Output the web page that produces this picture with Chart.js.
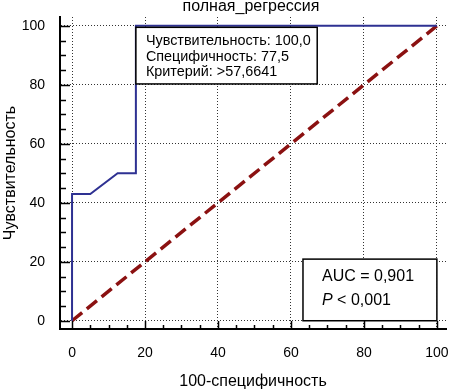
<!DOCTYPE html>
<html>
<head>
<meta charset="utf-8">
<script src="https://cdn.jsdelivr.net/npm/chart.js@4"></script>
<style>
  html, body { margin: 0; padding: 0; background: #fff; }
  #wrap { width: 449px; height: 392px; }
</style>
</head>
<body>
<div id="wrap"><canvas id="roc" width="449" height="392"></canvas></div>
<script>
const chartTitle = 'полная_регрессия';
const xAxisLabel = '100-специфичность';
const yAxisLabel = 'Чувствительность';

// ROC curve points (100-specificity, sensitivity)
const rocX = [0, 0, 5, 12.5, 17.5, 17.5, 100];
const rocY = [0, 43, 43, 50, 50, 100, 100];
// reference diagonal
const refX = [0, 100];
const refY = [0, 100];

const majorTicks = [0, 20, 40, 60, 80, 100];
const minorTicks = [5, 10, 15, 25, 30, 35, 45, 50, 55, 65, 70, 75, 85, 90, 95];

const cutoffLines = ['Чувствительность: 100,0', 'Специфичность: 77,5', 'Критерий: >57,6641'];
const aucText = 'AUC = 0,901';
const pLetter = 'P';
const pRest = ' < 0,001';

const FONT = 'Arial, "Liberation Sans", sans-serif';

function toPoints(xs, ys) {
    return xs.map((v, i) => ({ x: v, y: ys[i] }));
}

// title, inner tick marks and the two text boxes
const decorations = {
    id: 'decorations',
    afterDatasetsDraw(chart) {
        const { ctx, chartArea } = chart;
        const x = chart.scales.x;
        const y = chart.scales.y;
        ctx.save();

        // tick marks point inward
        ctx.strokeStyle = '#000';
        ctx.lineWidth = 1.5;
        const allTicks = majorTicks.concat(minorTicks);
        allTicks.forEach((v) => {
            const major = majorTicks.includes(v);
            const px = Math.round(x.getPixelForValue(v)) + 0.5;
            ctx.beginPath();
            ctx.moveTo(px, chartArea.bottom);
            ctx.lineTo(px, chartArea.bottom - (major ? 8 : 4));
            ctx.stroke();
            const py = Math.round(y.getPixelForValue(v)) + 0.5;
            ctx.beginPath();
            ctx.moveTo(chartArea.left, py);
            ctx.lineTo(chartArea.left + (major ? 10 : 6), py);
            ctx.stroke();
        });

        // cutoff box
        const b1l = x.getPixelForValue(17.5), b1r = x.getPixelForValue(67.2);
        const b1t = y.getPixelForValue(99.5), b1b = y.getPixelForValue(80.3);
        ctx.fillStyle = '#fff';
        ctx.fillRect(b1l, b1t, b1r - b1l, b1b - b1t);
        ctx.strokeStyle = '#000';
        ctx.lineWidth = 1.5;
        ctx.strokeRect(b1l, b1t, b1r - b1l, b1b - b1t);
        ctx.fillStyle = '#000';
        ctx.font = '14.4px ' + FONT;
        ctx.textBaseline = 'middle';
        ctx.textAlign = 'left';
        cutoffLines.forEach((t, i) => {
            ctx.fillText(t, b1l + 10, b1t + 14 + i * 15.6);
        });

        // AUC box
        const b2l = x.getPixelForValue(63.3), b2r = x.getPixelForValue(100);
        const b2t = y.getPixelForValue(20.9), b2b = y.getPixelForValue(0);
        ctx.fillStyle = '#fff';
        ctx.fillRect(b2l, b2t, b2r - b2l, b2b - b2t);
        ctx.strokeRect(b2l, b2t, b2r - b2l, b2b - b2t);
        ctx.fillStyle = '#000';
        ctx.font = '16px ' + FONT;
        ctx.fillText(aucText, b2l + 19, b2t + 17);
        ctx.font = 'italic 16px ' + FONT;
        ctx.fillText(pLetter, b2l + 19, b2t + 41);
        const pw = ctx.measureText(pLetter).width;
        ctx.font = '16px ' + FONT;
        ctx.fillText(pRest, b2l + 19 + pw, b2t + 41);

        // chart title (sits partly above the canvas top)
        ctx.font = '16px ' + FONT;
        ctx.textAlign = 'center';
        ctx.textBaseline = 'alphabetic';
        ctx.fillText(chartTitle, 251, 10.5);

        ctx.restore();
    }
};

const tickFont = { family: FONT, size: 14 };
const titleFont = { family: FONT, size: 16 };

new Chart(document.getElementById('roc'), {
    type: 'scatter',
    data: {
        datasets: [
            {
                data: toPoints(rocX, rocY),
                showLine: true,
                borderColor: '#2E3192',
                borderWidth: 2,
                pointRadius: 0,
                tension: 0,
            },
            {
                data: toPoints(refX, refY),
                showLine: true,
                borderColor: '#8B1111',
                borderWidth: 3.5,
                borderDash: [13, 6],
                pointRadius: 0,
            },
        ],
    },
    options: {
        responsive: false,
        animation: false,
        devicePixelRatio: 1,
        layout: { padding: { top: 17, right: 3, bottom: 0, left: 0 } },
        plugins: {
            legend: { display: false },
            tooltip: { enabled: false },
        },
        scales: {
            x: {
                type: 'linear',
                min: -3.3,
                max: 102.5,
                afterBuildTicks: (s) => { s.ticks = majorTicks.map((v) => ({ value: v })); },
                afterFit: (s) => { s.height = 63; s.paddingLeft = 0; s.paddingRight = 0; },
                grid: { color: '#333', lineWidth: 1, drawTicks: false },
                border: { display: true, color: '#000', width: 2, dash: [1, 2] },
                ticks: { color: '#000', font: tickFont, padding: 16, maxRotation: 0, autoSkip: false },
                title: { display: true, text: xAxisLabel, color: '#000', font: titleFont, padding: { top: 0, bottom: 1 } },
            },
            y: {
                type: 'linear',
                min: -2.8,
                max: 103,
                afterBuildTicks: (s) => { s.ticks = majorTicks.map((v) => ({ value: v })); },
                afterFit: (s) => { s.width = 60; s.paddingTop = 0; s.paddingBottom = 0; },
                grid: { color: '#333', lineWidth: 1, drawTicks: false },
                border: { display: true, color: '#000', width: 2, dash: [1, 2] },
                ticks: { color: '#000', font: tickFont, padding: 15, autoSkip: false },
                title: { display: true, text: yAxisLabel, color: '#000', font: titleFont, padding: { top: 1, bottom: 0 } },
            },
        },
    },
    plugins: [decorations],
});
</script>
</body>
</html>
